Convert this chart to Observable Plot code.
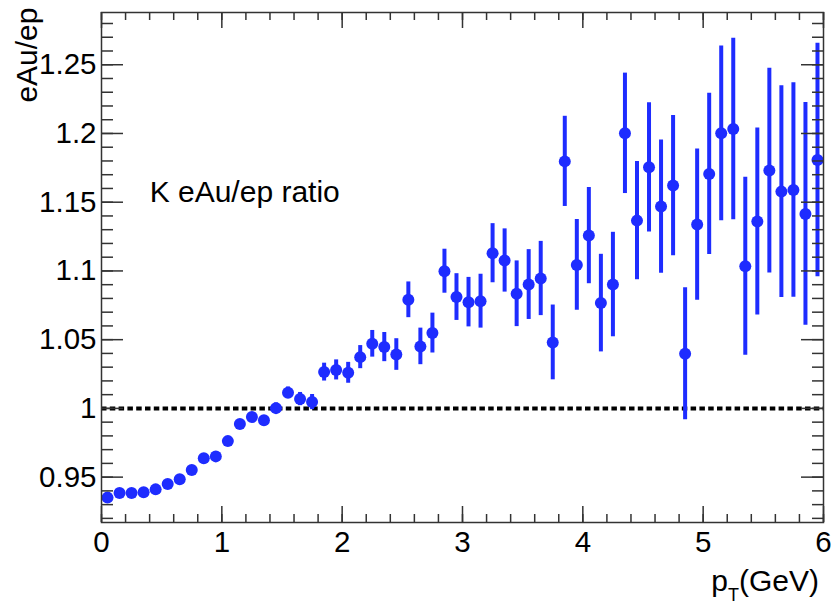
<!DOCTYPE html>
<html><head><meta charset="utf-8">
<script src="https://cdn.jsdelivr.net/npm/d3@7"></script>
<script src="https://cdn.jsdelivr.net/npm/@observablehq/plot@0.6"></script>
<style>html,body{margin:0;padding:0;background:#fff;} svg{display:block;}</style>
</head><body><div id="chart"></div>
<script>
// ---- data ----
const pt = [0.05,0.15,0.25,0.35,0.45,0.55,0.65,0.75,0.85,0.95,
            1.05,1.15,1.25,1.35,1.45,1.55,1.65,1.75,1.85,1.95,
            2.05,2.15,2.25,2.35,2.45,2.55,2.65,2.75,2.85,2.95,
            3.05,3.15,3.25,3.35,3.45,3.55,3.65,3.75,3.85,3.95,
            4.05,4.15,4.25,4.35,4.45,4.55,4.65,4.75,4.85,4.95,
            5.05,5.15,5.25,5.35,5.45,5.55,5.65,5.75,5.85,5.95];
const ratio = [0.9351,0.9384,0.9384,0.9390,0.9411,0.9450,0.9484,0.9552,0.9637,0.9651,
               0.9762,0.9886,0.9937,0.9913,1.0002,1.0114,1.0068,1.0046,1.0264,1.0280,
               1.0259,1.0373,1.0470,1.0446,1.0392,1.0790,1.0451,1.0548,1.0998,1.0810,
               1.0773,1.0780,1.1129,1.1076,1.0834,1.0901,1.0945,1.0480,1.1797,1.1044,
               1.1257,1.0766,1.0901,1.2001,1.1366,1.1754,1.1468,1.1621,1.0398,1.1337,
               1.1706,1.2001,1.2033,1.1034,1.1359,1.1730,1.1577,1.1589,1.1415,1.1807];
const err = [0.0010,0.0010,0.0012,0.0013,0.0014,0.0016,0.0018,0.0020,0.0022,0.0024,
             0.0026,0.0029,0.0032,0.0035,0.0038,0.0042,0.0048,0.0055,0.0065,0.0073,
             0.0076,0.0084,0.0097,0.0106,0.0115,0.0130,0.0133,0.0145,0.0160,0.0170,
             0.0180,0.0196,0.0215,0.0230,0.0239,0.0254,0.0270,0.0272,0.0328,0.0330,
             0.0350,0.0355,0.0380,0.0438,0.0430,0.0470,0.0484,0.0510,0.0480,0.0550,
             0.0587,0.0636,0.0660,0.0648,0.0680,0.0745,0.0770,0.0780,0.0810,0.0850];
const xMajor = [0,1,2,3,4,5,6];
const yMajor = [0.95,1,1.05,1.1,1.15,1.2,1.25];
const xMinor = d3.range(0, 6.001, 0.2).map(v => +v.toFixed(1));
const yMinor = d3.range(0.92, 1.2801, 0.01).map(v => +v.toFixed(2));
const refLine = [1];
const yTitle = "eAu/ep";
const xTitleMain = "p", xTitleSub = "T", xTitleUnit = "(GeV)";
const note = [{label: "K eAu/ep ratio", x: 0.4, y: 1.15}];

// ---- layout / style ----
const W = 833, H = 606, ML = 101, MR = 10, MT = 12, MB = 84;
const iw = W - ML - MR, ih = H - MT - MB;
const blue = "#1e2cff", axisC = "#333";
const data = pt.map((x, i) => ({x, y: ratio[i], e: err[i]}));
const tk = {stroke: axisC, strokeWidth: 1.5};

const plot = Plot.plot({
  width: W, height: H,
  marginLeft: ML, marginRight: MR, marginTop: MT, marginBottom: MB,
  x: {domain: [0, 6]},
  y: {domain: [0.917, 1.288]},
  style: {fontFamily: "'Liberation Sans', Arial, Helvetica, sans-serif", background: "#fff", color: "#000"},
  marks: [
    Plot.ruleY(refLine, {y: d => d, stroke: "#000", strokeWidth: 4, strokeDasharray: "5.5,3.3"}),
    Plot.ruleX(data, {x: "x", y1: d => d.y - d.e, y2: d => d.y + d.e, stroke: blue, strokeWidth: 4, clip: true}),
    Plot.dot(data, {x: "x", y: "y", r: 6, fill: blue, clip: true}),
    // left ticks
    Plot.tickY(yMinor, {y: d => d, insetRight: iw - 12, ...tk}),
    Plot.tickY(yMajor, {y: d => d, insetRight: iw - 22, ...tk}),
    // right ticks
    Plot.tickY(yMinor, {y: d => d, insetLeft: iw - 11, ...tk}),
    Plot.tickY(yMajor, {y: d => d, insetLeft: iw - 22, ...tk}),
    // bottom ticks
    Plot.tickX(xMinor, {x: d => d, insetTop: ih - 8, ...tk}),
    Plot.tickX(xMajor, {x: d => d, insetTop: ih - 16, ...tk}),
    // top ticks
    Plot.tickX(xMinor, {x: d => d, insetBottom: ih - 8, ...tk}),
    Plot.tickX(xMajor, {x: d => d, insetBottom: ih - 16, ...tk}),
    Plot.frame({stroke: axisC, strokeWidth: 1.5}),
    Plot.axisX(xMajor, {tickSize: 0, tickPadding: 9, fontSize: 29.5, tickFormat: d => String(d), label: null}),
    Plot.axisY(yMajor, {tickSize: 0, tickPadding: 5, fontSize: 29.5, tickFormat: d => String(d), label: null}),
    Plot.text([yTitle], {frameAnchor: "top-left", rotate: -90, textAnchor: "end", lineAnchor: "bottom", dx: -65, dy: -5, fontSize: 30, fill: "#000"}),
    Plot.text(note, {x: "x", y: "y", text: "label", textAnchor: "start", lineAnchor: "bottom", fontSize: 30, fill: "#000"})
  ]
});

// x-axis title with subscript
const t = d3.select(plot).append("text")
  .attr("x", 819).attr("y", 591)
  .attr("text-anchor", "end")
  .attr("font-size", 30)
  .attr("fill", "#000");
t.append("tspan").text(xTitleMain);
t.append("tspan").attr("dy", 10).attr("font-size", 18).text(xTitleSub);
t.append("tspan").attr("dy", -10).attr("font-size", 30).text(xTitleUnit);

document.getElementById("chart").appendChild(plot);
</script>
</body></html>
